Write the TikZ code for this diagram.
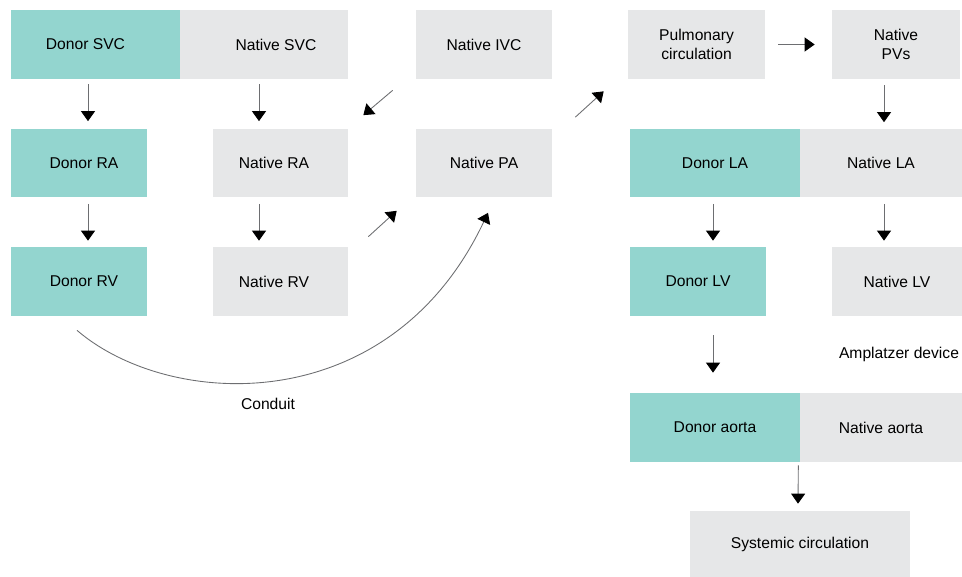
\documentclass[tikz,border=0pt]{standalone}
\usepackage{fontspec}
\setmainfont{Liberation Sans}
\usetikzlibrary{arrows.meta}

\definecolor{donorteal}{HTML}{93D5CF}
\definecolor{nativegray}{HTML}{E6E7E8}
\definecolor{shaftgray}{HTML}{6D6E71}

\begin{document}
\begin{tikzpicture}[
  x=0.02cm, y=-0.02cm,
  font=\fontsize{8.9}{10.5}\selectfont,
  donor/.style={rectangle, fill=donorteal, text centered, align=center, minimum height=1.38cm, inner sep=0pt},
  native/.style={rectangle, fill=nativegray, text centered, align=center, minimum height=1.38cm, inner sep=0pt},
  arrow/.style={draw=shaftgray, line width=0.5pt, -{Triangle[length=2mm, width=2.8mm, color=black]}},
  label/.style={inner sep=0pt}
]
\useasboundingbox (0,0) rectangle (962,577);

% Top row
\node[donor, minimum width=3.38cm] (dsvc) at (95.5, 44.5) {Donor SVC\hspace*{0.4cm}};
\node[native, minimum width=3.36cm] (nsvc) at (264, 44.5) {\hspace*{0.48cm}Native SVC};
\node[native, minimum width=2.72cm] (nivc) at (484, 44.5) {Native IVC};
\node[native, minimum width=2.74cm] (pulm) at (696.5, 44.5) {Pulmonary\\circulation};
\node[native, minimum width=2.56cm] (npv) at (896, 44.5) {Native\\PVs};

% Atria and PA
\node[donor, minimum width=2.72cm] (dra) at (79, 163) {\hspace*{0.2cm}Donor RA};
\node[native, minimum width=2.70cm] (nra) at (280.5, 163) {Native RA\hspace*{0.26cm}};
\node[native, minimum width=2.72cm] (npa) at (484, 163) {Native PA};
\node[donor, minimum width=3.40cm] (dla) at (715, 163) {Donor LA};
\node[native, minimum width=3.24cm] (nla) at (881, 163) {Native LA};

% Ventricles
\node[donor, minimum width=2.72cm] (drv) at (79, 281.5) {\hspace*{0.2cm}Donor RV};
\node[native, minimum width=2.70cm] (nrv) at (280.5, 281.5) {Native RV\hspace*{0.26cm}};
\node[donor, minimum width=2.72cm] (dlv) at (698, 281.5) {Donor LV};
\node[native, minimum width=2.60cm] (nlv) at (897, 281.5) {Native LV};

% Aorta and systemic circulation
\node[donor, minimum width=3.40cm] (dao) at (715, 427.5) {Donor aorta};
\node[native, minimum width=3.24cm] (nao) at (881, 427.5) {Native aorta};
\node[native, minimum width=4.40cm, minimum height=1.34cm] (sys) at (800, 544.5) {Systemic circulation};

% Labels
\node[label] (conduit) at (268, 404) {Conduit};
\node[label] (amplatzer) at (899, 354) {Amplatzer device};

% Arrows, right heart
\draw[arrow] ([shift={(-7.5,5)}]dsvc.south) -- ([shift={(9,-7)}]dra.north);
\draw[arrow] ([shift={(-5,5)}]nsvc.south) -- ([shift={(-21.5,-7)}]nra.north);
\draw[arrow] ([shift={(9,6)}]dra.south) -- ([shift={(9,-6)}]drv.north);
\draw[arrow] ([shift={(-21.5,6)}]nra.south) -- ([shift={(-21.5,-6)}]nrv.north);
\draw[arrow] ([shift={(-23,11)}]nivc.south west) -- ([shift={(15,-13)}]nra.north east);
\draw[arrow] ([shift={(20,-10)}]nrv.north east) -- ([shift={(-19,13)}]npa.south west);
\draw[arrow] ([shift={(-2,14)}]drv.south) .. controls (170,410) and (390,420) .. ([shift={(4,15)}]npa.south);

% Arrows, left heart
\draw[arrow] ([shift={(23,-11)}]npa.north east) -- ([shift={(-24,12)}]pulm.south west);
\draw[arrow] ([shift={(13,0)}]pulm.east) -- ([shift={(-17,0)}]npv.west);
\draw[arrow] ([shift={(-12,6)}]npv.south) -- ([shift={(3,-6)}]nla.north);
\draw[arrow] ([shift={(-2,6)}]dla.south) -- ([shift={(15,-6)}]dlv.north);
\draw[arrow] ([shift={(3,6)}]nla.south) -- ([shift={(-13,-6)}]nlv.north);
\draw[arrow] ([shift={(15,19)}]dlv.south) -- ([shift={(-2,-20)}]dao.north);
\draw[arrow] ([shift={(-2,3)}]dao.south east) -- ([shift={(-2,-7)}]sys.north);

\end{tikzpicture}
\end{document}
